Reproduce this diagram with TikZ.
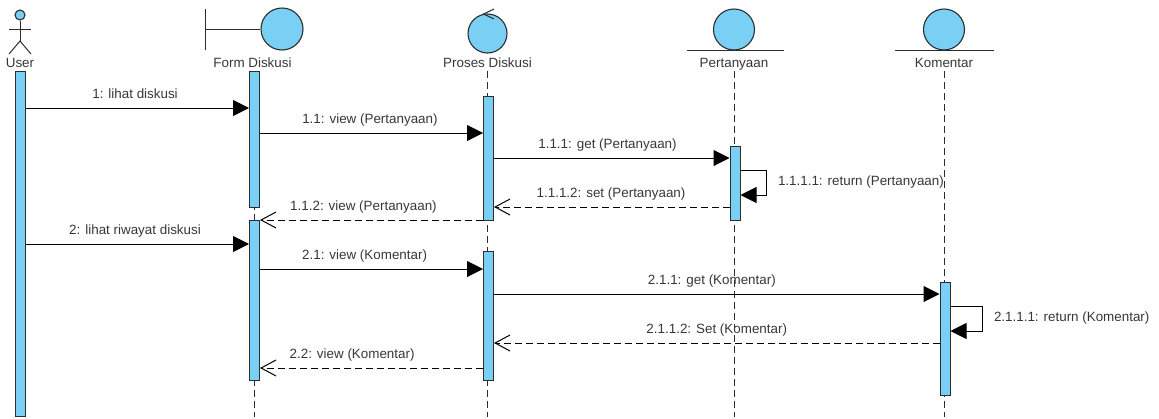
\documentclass[tikz,border=0pt]{standalone}
\usepackage{fontspec}
\setmainfont{Liberation Sans}
\usepackage{xcolor}
\usetikzlibrary{arrows.meta}
\usetikzlibrary{positioning}
\definecolor{barblue}{RGB}{122,207,245}
\definecolor{linegray}{RGB}{45,45,45}
\definecolor{textgray}{RGB}{55,55,55}
\begin{document}
\begin{tikzpicture}[x=1pt,y=-1pt,line width=1pt,
	icon_node/.style={circle,fill=barblue,draw=linegray,inner sep=0pt,line width=1.1pt},
	bar_node/.style={rectangle,fill=barblue,draw=linegray,minimum width=10pt,inner sep=0pt},
	name_label/.style={inner sep=0pt,text=textgray,font=\fontsize{13.4}{15}\selectfont,text height=9.5pt,text depth=3pt},
	msg_label/.style={name_label,above=6pt},
	self_label/.style={name_label,right=11pt},
	life_line/.style={draw=linegray,dash pattern=on 7pt off 4pt},
	sync_msg/.style={draw=black,-{Triangle[length=16pt,width=16pt]}},
	return_msg/.style={draw=black,dash pattern=on 7pt off 4pt,-{Straight Barb[length=15pt,width=16pt]}}]
	\useasboundingbox (0,0) rectangle (1159,418);
	% heads
	\node[icon_node,minimum size=10pt](user_head) at (20,15){};
	\node[icon_node,minimum size=42pt](form_icon) at (282,29){};
	\node[icon_node,minimum size=39pt](proses_icon) at (487.5,33.5){};
	\node[icon_node,minimum size=41pt](pert_icon) at (734,29.5){};
	\node[icon_node,minimum size=41pt](kom_icon) at (944,29.5){};
	\node[name_label](user_label) at (20,64.5){User};
	\node[name_label](form_label) at (252.5,64.5){Form Diskusi};
	\node[name_label](proses_label) at (487.5,64.5){Proses Diskusi};
	\node[name_label](pert_label) at (734,64.5){Pertanyaan};
	\node[name_label](kom_label) at (944,64.5){Komentar};
	% stick figure
	\coordinate (user_hip) at (20,41);
	\draw[linegray] (user_head) -- (user_hip);
	\draw[linegray] (9,29) -- (31,29);
	\draw[linegray] (9,54) -- (user_hip) -- (31,54);
	% boundary, control and entity marks
	\coordinate (form_stem) at (205,29);
	\draw[linegray] (205,9) -- (205,50);
	\draw[linegray] (form_stem) -- (form_icon);
	\draw[linegray] (494,9) -- (483.5,14) -- (494,19);
	\draw[linegray] (686.5,50.5) -- (784,50.5);
	\draw[linegray] (895,50.5) -- (993.5,50.5);
	% life lines
	\coordinate (form_foot) at (254.5,417);
	\coordinate (proses_foot) at (487.5,417);
	\coordinate (pert_foot) at (734,417);
	\coordinate (kom_foot) at (944,417);
	\draw[life_line] (254.5,71) -- (form_foot);
	\draw[life_line] (proses_label.south) -- (proses_foot);
	\draw[life_line] (pert_label.south) -- (pert_foot);
	\draw[life_line] (kom_label.south) -- (kom_foot);
	% activation bars
	\node[bar_node,minimum height=345pt](user_bar) at (20,243.5){};
	\node[bar_node,minimum height=136pt](form_bar_a) at (254.5,139){};
	\node[bar_node,minimum height=160pt](form_bar_b) at (254.5,300){};
	\node[bar_node,minimum height=124pt](proses_bar_a) at (488.5,158){};
	\node[bar_node,minimum height=129pt](proses_bar_b) at (488.5,315.5){};
	\node[bar_node,minimum height=74pt](pert_bar) at (735,183){};
	\node[bar_node,minimum height=113pt](kom_bar) at (945,338.5){};
	% messages
	\draw[sync_msg] (user_bar.east |- 0,108) -- node[msg_label,pos=.49](msg_1){1: lihat diskusi} (form_bar_a.west |- 0,108);
	\draw[sync_msg] (form_bar_a.east |- 0,133) -- node[msg_label,pos=.493](msg_11){1.1: view (Pertanyaan)} (proses_bar_a.west |- 0,133);
	\draw[sync_msg] (proses_bar_a.east |- 0,158) -- node[msg_label,pos=.482](msg_111){1.1.1: get (Pertanyaan)} (pert_bar.west |- 0,158);
	\draw[sync_msg] (pert_bar.east |- 0,170) -- ++(26,0) -- node[self_label](msg_1111){1.1.1.1: return (Pertanyaan)} ++(0,25) -- (pert_bar.east |- 0,195);
	\draw[return_msg] (pert_bar.west |- 0,207) -- node[msg_label,pos=.503](msg_1112){1.1.1.2: set (Pertanyaan)} (proses_bar_a.east |- 0,207);
	\draw[return_msg] (proses_bar_a.west |- 0,220) -- node[msg_label,pos=.536](msg_112){1.1.2: view (Pertanyaan)} (form_bar_b.east |- 0,220);
	\draw[sync_msg] (user_bar.east |- 0,244) -- node[msg_label,pos=.49](msg_2){2: lihat riwayat diskusi} (form_bar_b.west |- 0,244);
	\draw[sync_msg] (form_bar_b.east |- 0,269) -- node[msg_label,pos=.469](msg_21){2.1: view (Komentar)} (proses_bar_b.west |- 0,269);
	\draw[sync_msg] (proses_bar_b.east |- 0,294) -- node[msg_label,pos=.489](msg_211){2.1.1: get (Komentar)} (kom_bar.west |- 0,294);
	\draw[sync_msg] (kom_bar.east |- 0,306) -- ++(32,0) -- node[self_label](msg_2111){2.1.1.1: return (Komentar)} ++(0,25) -- (kom_bar.east |- 0,331);
	\draw[return_msg] (kom_bar.west |- 0,343) -- node[msg_label,pos=.5](msg_2112){2.1.1.2: Set (Komentar)} (proses_bar_b.east |- 0,343);
	\draw[return_msg] (proses_bar_b.west |- 0,368) -- node[msg_label,pos=.587](msg_22){2.2: view (Komentar)} (form_bar_b.east |- 0,368);
\end{tikzpicture}
\end{document}
